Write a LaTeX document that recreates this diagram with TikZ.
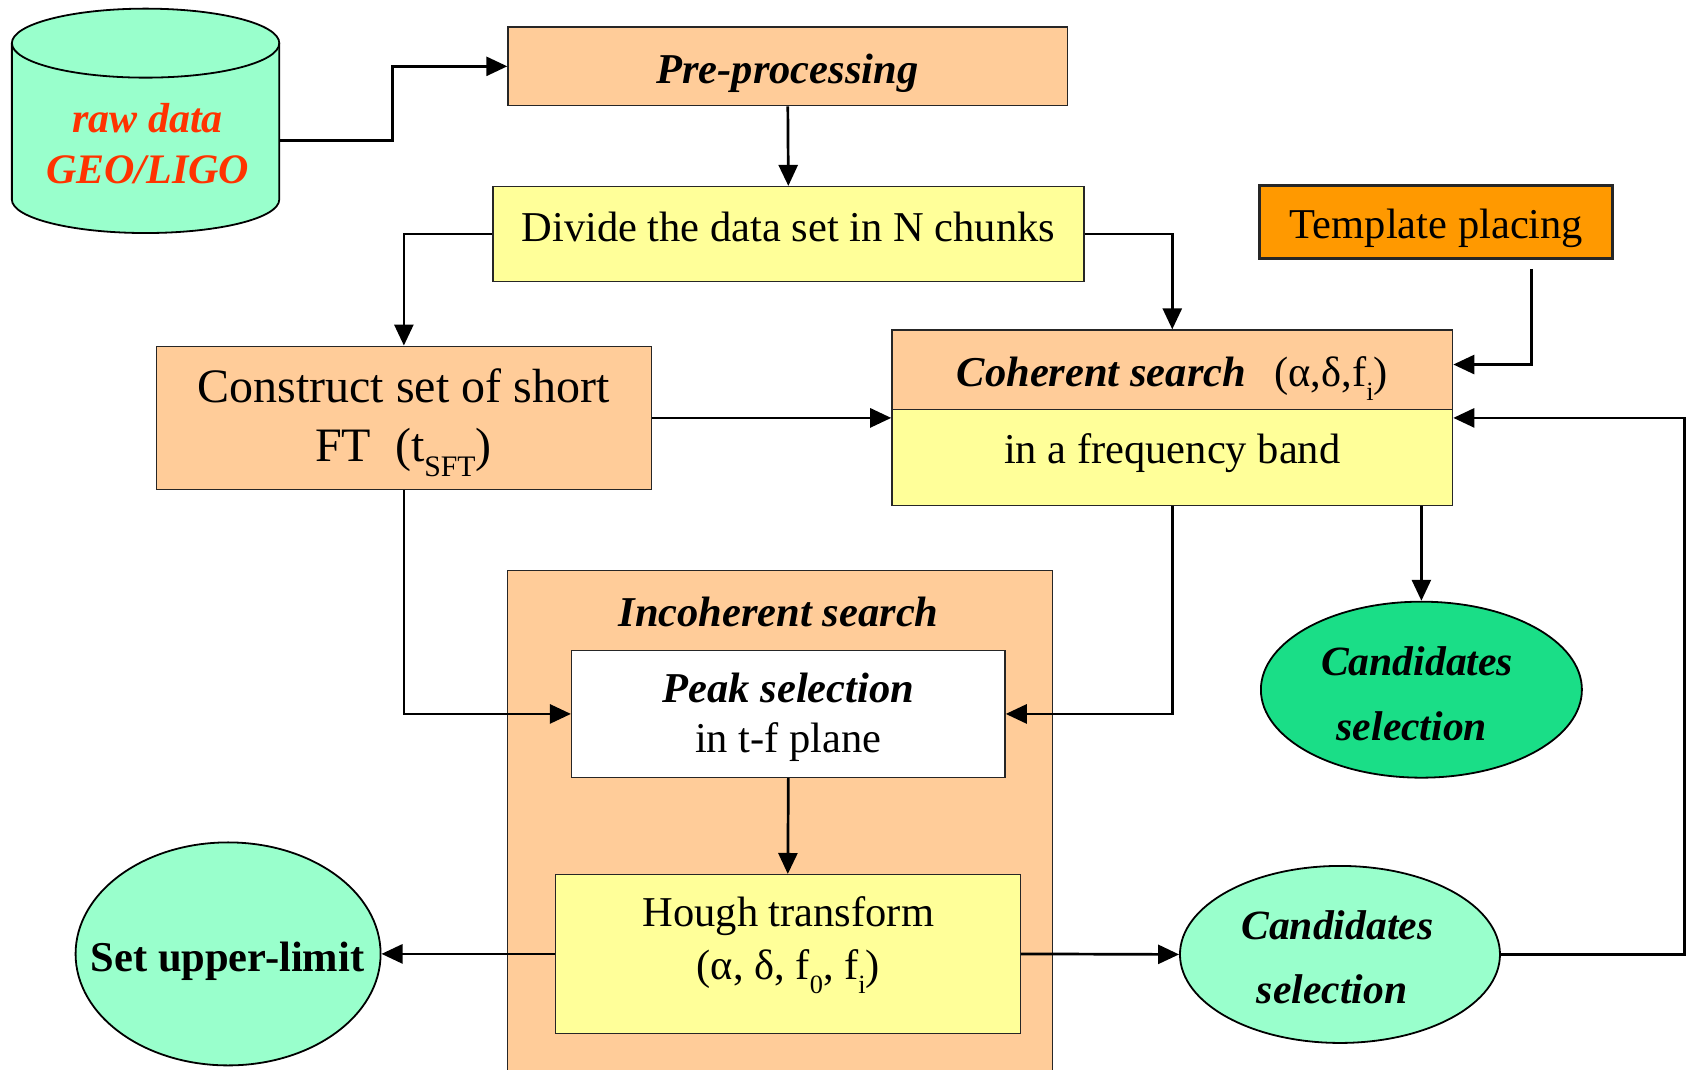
\documentclass[tikz,border=0pt]{standalone}
\usepackage{fontspec}
\setmainfont{Liberation Serif}
\usetikzlibrary{arrows.meta,calc,fit,shapes.geometric}
\definecolor{peach}{HTML}{FFCC99}
\definecolor{yel}{HTML}{FFFF99}
\definecolor{orng}{HTML}{FF9900}
\definecolor{lgreen}{HTML}{99FFCC}
\definecolor{mgreen}{HTML}{1ADE87}
\definecolor{rawred}{HTML}{FF3300}
\newcommand\lowsub[1]{\raisebox{-0.33em}{\scalebox{0.62}{#1}}}
\begin{document}
\begin{tikzpicture}[x=1.0784pt,y=-1.0784pt,
  box/.style={draw=black!85, line width=1.3pt, inner sep=0pt},
  arr/.style={line width=2.7pt, -{Triangle[length=21pt,width=19pt]}},
  txt/.style={inner sep=0pt, align=center, font=\fontsize{42.5}{50}\selectfont},
  ell/.style={ellipse, draw, line width=1.8pt, inner sep=0pt}]
\useasboundingbox (0,0) rectangle (1568,992);

% cylinder
\fill[lgreen] (11,40) -- (11,185) arc[start angle=180,end angle=360,x radius=133.7pt,y radius=33.5pt]
  -- (259,40) arc[start angle=0,end angle=180,x radius=133.7pt,y radius=34.5pt] -- cycle;
\draw[line width=1.8pt] (11,40) -- (11,185) arc[start angle=180,end angle=360,x radius=133.7pt,y radius=33.5pt] -- (259,40);
\draw[line width=1.8pt] (135,40) ellipse[x radius=133.7pt,y radius=34.5pt];
\node[inner sep=0pt, fit={(11,7)(259,216)}] (raw) {};
\node[txt, text=rawred, font=\fontsize{42}{50.7}\selectfont\bfseries\itshape] at (137,133) {raw data\\GEO/LIGO};

% boxes
\node[box, fill=peach, fit={(471,25)(990,98)}] (pre) {};
\node[txt, font=\fontsize{42.5}{50}\selectfont\bfseries\itshape] at (730,68) {Pre-processing};

\node[box, fill=yel, fit={(457,173)(1005,261)}] (div) {};
\node[txt] at (731,210) {Divide the data set in N chunks};

\node[box, fill=orng, line width=2.8pt, fit={(1168,172)(1495,240)}] (tmp) {};
\node[txt] at (1332,212) {Template placing};

\node[box, fill=peach, fit={(145,321)(604,454)}] (con) {};
\node[txt, font=\fontsize{48}{59}\selectfont] at (374,392) {Construct set of short\\FT\ \ (t\lowsub{SFT})};

\node[box, fill=yel, fit={(827,306)(1347,469)}] (coh) {};
\node[box, fill=peach, fit={(827,306)(1347,380)}] (cohh) {};
\node[txt] at (1087,351) {\textbf{\textit{Coherent search}}\ \ \,(α,δ,f\lowsub{i})};
\node[txt] at (1087,420) {in a frequency band};

\node[fill=peach, inner sep=0pt, fit={(471,529)(976,1000)}] (inc) {};
\draw[line width=1.3pt, draw=black!85] (inc.south west) |- (inc.north) -| (inc.south east);
\node[txt, font=\fontsize{42.5}{50}\selectfont\bfseries\itshape] at (722,567) {Incoherent search};

\node[box, fill=white, fit={(530,603)(932,721)}] (peak) {};
\node[txt, font=\fontsize{42.5}{49.6}\selectfont] at (731,665) {\textbf{\textit{Peak selection}}\\in t-f plane};

\node[box, fill=yel, fit={(515,811)(946,958)}] (hough) {};
\node[txt, font=\fontsize{42.5}{53}\selectfont] at (731,876) {Hough transform\\(α, δ, f\lowsub{0}, f\lowsub{i})};

% ellipses
\node[ell, fill=lgreen, minimum width=305pt, minimum height=223pt] (up) at (211.5,884.5) {};
\node[txt, font=\fontsize{42.5}{50}\selectfont\bfseries] at (211,891) {Set upper-limit};

\node[ell, fill=mgreen, minimum width=321pt, minimum height=176pt] (cand1) at (1318,639.5) {};
\node[txt, font=\fontsize{41.6}{65}\selectfont\bfseries\itshape] at (1314,643) {Candidates\\selection\hspace*{0.25em}};

\node[ell, fill=lgreen, minimum width=320pt, minimum height=177pt] (cand2) at (1242.5,885) {};
\node[txt, font=\fontsize{41.6}{64}\selectfont\bfseries\itshape] at (1240,887.5) {Candidates\\selection\hspace*{0.25em}};

% connectors
\draw[arr] ($(raw.east)+(0,18.5)$) -- ++(105,0) |- (pre.west);
\draw[arr] (pre.south) -- (div.north);
\draw[arr] (div.west) -| (con.north);
\draw[arr] (div.east) -| (coh.north);
\draw[arr] ($(tmp.south)+(88.5,8)$) |- ($(coh.east)+(0,-49.5)$);
\draw[arr] (con.east) -- (coh.west);
\draw[arr] (coh.south -| cand1.north) -- (cand1.north);
\draw[arr] (coh.south) |- (peak.east);
\draw[arr] (con.south) |- (peak.west);
\draw[arr] (peak.south) -- (hough.north);
\draw[arr] (hough.west) -- (up.east);
\draw[arr] (hough.east) -- (cand2.west);
\draw[arr] (cand2.east) -- ++(170,0) |- (coh.east);
\end{tikzpicture}
\end{document}
